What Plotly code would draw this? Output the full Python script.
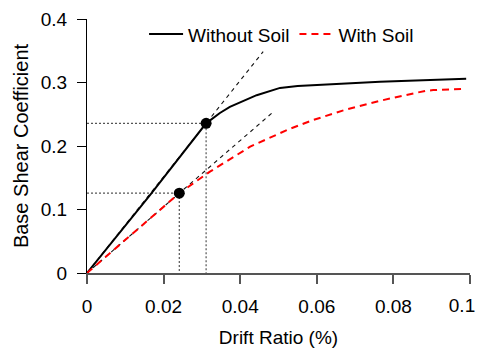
import plotly.graph_objects as go

# Pushover curves (drift ratio, base shear coefficient)
drift_without = [0, 0.010, 0.0165, 0.0311, 0.0347, 0.0373, 0.0443, 0.0504, 0.055, 0.0765, 0.099]
shear_without = [0, 0.075, 0.123, 0.2357, 0.2520, 0.2617, 0.2800, 0.2915, 0.2945, 0.3010, 0.3060]

drift_with = [0, 0.012, 0.0241, 0.0321, 0.0426, 0.0526, 0.0591, 0.0678, 0.0765, 0.0852, 0.0885, 0.0904, 0.0978]
shear_with = [0, 0.063, 0.1257, 0.1596, 0.1990, 0.2262, 0.2410, 0.2577, 0.2712, 0.2828, 0.2870, 0.2880, 0.2896]

# Yield points
yield_x = [0.0311, 0.0241]
yield_y = [0.2357, 0.1257]
# extent of the initial-stiffness tangent lines
tangent_end_x = [0.046, 0.0486]

x_ticks = [0, 0.02, 0.04, 0.06, 0.08, 0.1]
x_ticktext = ["0", "0.02", "0.04", "0.06", "0.08", ""]
x_last_tick = [0.1]
x_last_ticktext = ["0.1"]
y_ticks = [0, 0.1, 0.2, 0.3, 0.4]
y_ticktext = ["0", "0.1", "0.2", "0.3", "0.4"]

FONT = "Liberation Sans, Arial, sans-serif"
X_RANGE = [0, 0.1000001]

fig = go.Figure()

# tangent lines
for xi, yi, xe in zip(yield_x, yield_y, tangent_end_x):
    k = yi / xi
    fig.add_trace(go.Scatter(x=[0, xe], y=[0, k * xe], mode="lines",
                             line=dict(color="#111111", width=1.1, dash="4px,4px"),
                             showlegend=False, hoverinfo="skip"))
# reference dotted lines
for xi, yi in zip(yield_x, yield_y):
    fig.add_trace(go.Scatter(x=[0, xi, xi], y=[yi, yi, 0], mode="lines",
                             line=dict(color="#555555", width=1.2, dash="2px,2px"),
                             showlegend=False, hoverinfo="skip"))

fig.add_trace(go.Scatter(x=drift_without, y=shear_without, mode="lines", name="Without Soil",
                         line=dict(color="black", width=2)))
fig.add_trace(go.Scatter(x=drift_with, y=shear_with, mode="lines", name="With Soil",
                         line=dict(color="#ff0000", width=2, dash="7px,5px")))

# yield points drawn on the overlaying x axis (identical range)
fig.add_trace(go.Scatter(x=yield_x, y=yield_y, mode="markers", xaxis="x2", yaxis="y",
                         marker=dict(color="black", size=11), showlegend=False,
                         cliponaxis=False))

fig.update_layout(
    width=475, height=340,
    margin=dict(l=79, r=13, t=11, b=75, autoexpand=False),
    paper_bgcolor="white", plot_bgcolor="white",
    font=dict(family=FONT, size=19, color="black"),
    legend=dict(orientation="h", x=0.149, xanchor="left", y=0.94, yanchor="middle",
                bgcolor="rgba(0,0,0,0)", font=dict(size=19), itemwidth=34,
                traceorder="normal"),
    xaxis=dict(range=X_RANGE, tickvals=x_ticks, ticktext=x_ticktext,
               showgrid=False, zeroline=False, showline=True, linecolor="#555555",
               linewidth=1.5, ticks="outside", ticklen=9, tickcolor="#555555",
               tickwidth=1.5, ticklabelstandoff=6, automargin=False,
               title=dict(text="Drift Ratio (%)", standoff=16, font=dict(size=19))),
    # last tick label, nudged left so it stays inside the page
    xaxis2=dict(range=X_RANGE, overlaying="x", anchor="y", side="bottom",
                tickvals=x_last_tick, ticktext=x_last_ticktext,
                showgrid=False, zeroline=False, showline=False, ticks="outside",
                ticklen=9, tickcolor="rgba(0,0,0,0)", ticklabelstandoff=6,
                ticklabelshift=-8, ticklabeloverflow="allow", automargin=False),
    yaxis=dict(range=[0, 0.4000001], tickvals=y_ticks, ticktext=y_ticktext,
               showgrid=False, zeroline=False, showline=True, linecolor="black",
               linewidth=1.2, ticks="outside", ticklen=9, tickcolor="black",
               tickwidth=1.2, ticklabelstandoff=6, automargin=False,
               title=dict(text="Base Shear Coefficient", standoff=6, font=dict(size=20))),
)

fig.write_html("out.html")
